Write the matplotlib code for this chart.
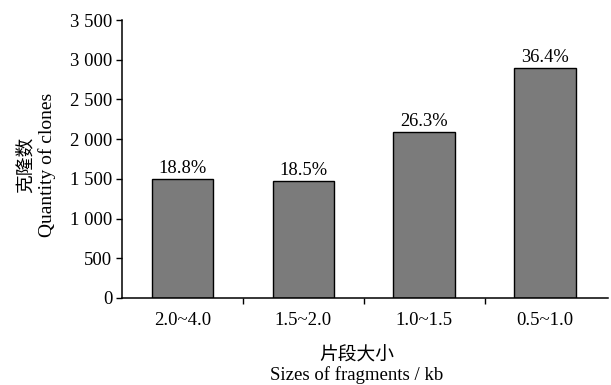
#Clone counts by fragment size
import matplotlib
matplotlib.use('Agg')
import matplotlib.pyplot as plt
from matplotlib.ticker import FuncFormatter, FixedLocator

plt.rcParams['font.family'] = ['Liberation Serif', 'Noto Sans CJK SC']

sizes = ['2.0~4.0', '1.5~2.0', '1.0~1.5', '0.5~1.0']
clones = [1500, 1475, 2095, 2900]
percents = ['18.8%', '18.5%', '26.3%', '36.4%']

W, H = 611, 385
fig = plt.figure(figsize=(6.11, 3.85), dpi=100)
ax = fig.add_axes([0.2, 0.226, 0.795, 0.722])

x = range(len(sizes))
bars = ax.bar(x, clones, width=0.51, color='#7b7b7b', edgecolor='black', linewidth=1.0)

for b, p in zip(bars, percents):
    ax.text(b.get_x() + b.get_width() / 2, b.get_height() + 25, p,
            ha='center', va='bottom', fontsize=13.3)

ax.set_xlim(-0.5, 3.52)
ax.set_ylim(0, 3500)
ax.set_yticks(range(0, 3501, 500))
ax.yaxis.set_major_formatter(FuncFormatter(lambda v, pos: format(int(v), ',').replace(',', ' ')))
ax.set_xticks(list(x))
ax.set_xticklabels(sizes)
ax.xaxis.set_minor_locator(FixedLocator([0.5, 1.5, 2.5]))

ax.tick_params(axis='x', which='major', length=0, pad=10, labelsize=13.5)
ax.tick_params(axis='x', which='minor', length=4, width=1)
ax.tick_params(axis='y', length=4, width=1, pad=3, labelsize=13.5)

for s in ['top', 'right']:
    ax.spines[s].set_visible(False)
for s in ['left', 'bottom']:
    ax.spines[s].set_linewidth(1.1)

# axis titles, Chinese line and English line
fig.text(26 / W, 1 - 165 / H, '克隆数', rotation=90, ha='center', va='center', fontsize=13.5)
fig.text(47 / W, 1 - 165 / H, 'Quantity of clones', rotation=90, ha='center', va='center', fontsize=14)
fig.text(357 / W, 1 - 356 / H, '片段大小', ha='center', va='center', fontsize=13.5)
fig.text(357 / W, 1 - 375 / H, 'Sizes of fragments / kb', ha='center', va='center', fontsize=13.5)

fig.savefig('out.png', dpi=100)
